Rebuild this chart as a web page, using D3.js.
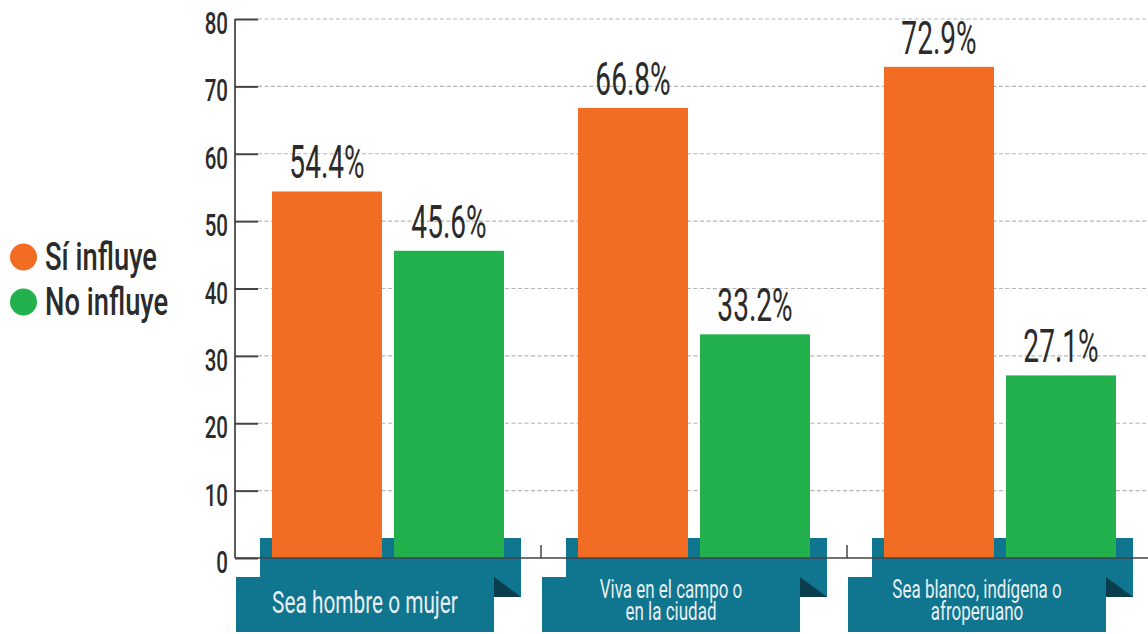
<!DOCTYPE html>
<html><head><meta charset="utf-8">
<script src="https://cdn.jsdelivr.net/npm/d3@7"></script>
<style>html,body{margin:0;padding:0;background:#fff;}svg{display:block;}</style>
</head><body>
<script>
const categories = ["Sea hombre o mujer", "Viva en el campo o en la ciudad", "Sea blanco, indígena o afroperuano"];
const categoryLines = [["Sea hombre o mujer"], ["Viva en el campo o", "en la ciudad"], ["Sea blanco, indígena o", "afroperuano"]];
const seriesNames = ["Sí influye", "No influye"];
const siInfluye = [54.4, 66.8, 72.9];
const noInfluye = [45.6, 33.2, 27.1];
const yTickValues = [0, 10, 20, 30, 40, 50, 60, 70, 80];

const W = 1148, H = 634;
const colors = {"Sí influye": "#F26C23", "No influye": "#23B14D"};
const teal = "#10758F", tealDark = "#0A3D4E", ink = "#2b2b2b";
const FONT = "Roboto, 'Liberation Sans', sans-serif";

const svg = d3.select("body").append("svg").attr("width", W).attr("height", H);

const y = d3.scaleLinear().domain([0, 80]).range([558, 19]);
const x = d3.scaleBand().domain(categories).range([235, 1153]).padding(0);
const inner = d3.scaleBand().domain(seriesNames).range([-116, 116]).paddingInner(12 / 122).paddingOuter(0);

const data = categories.map((c, i) => ({cat: c, lines: categoryLines[i],
  vals: [{s: seriesNames[0], v: siInfluye[i]}, {s: seriesNames[1], v: noInfluye[i]}]}));
const cx = c => x(c) + x.bandwidth() / 2;

function condensed(sel, sx) {
  sel.attr("transform", function() {
    const t = d3.select(this);
    return `translate(${t.attr("data-x")},${t.attr("data-y")}) scale(${sx},1)`;
  });
}

// grid
svg.append("g").selectAll("line").data(yTickValues.filter(d => d > 0)).join("line")
  .attr("x1", 258).attr("x2", W).attr("y1", d => y(d)).attr("y2", d => y(d))
  .attr("stroke", "#b5b5b5").attr("stroke-width", 1.2).attr("stroke-dasharray", "4,2.5");

// y axis
const yAxis = d3.axisLeft(y).tickValues(yTickValues).tickSize(0).tickFormat(d3.format("d"));
const ya = svg.append("g").attr("transform", "translate(235,0)").call(yAxis);
ya.select(".domain").remove();
ya.selectAll(".tick text").remove();
ya.selectAll(".tick").append("line").attr("x1", 0).attr("x2", 23).attr("stroke", "#444").attr("stroke-width", 2);
svg.append("line").attr("x1", 235).attr("x2", 235).attr("y1", y(80)).attr("y2", y(0))
  .attr("stroke", "#333").attr("stroke-width", 1.6);
svg.append("g").selectAll("text").data(yTickValues).join("text")
  .attr("data-x", 228).attr("data-y", d => y(d) + 15)
  .attr("text-anchor", "end").attr("font-family", FONT).attr("font-weight", 500)
  .attr("font-size", 32).attr("fill", ink).text(d => d)
  .call(condensed, 0.64);

// upper banners
const grp = svg.append("g").selectAll("g").data(data).join("g")
  .attr("transform", d => `translate(${cx(d.cat)},0)`);
grp.append("rect").attr("x", -128).attr("width", 261).attr("y", 538).attr("height", 59).attr("fill", teal);
grp.append("path").attr("d", "M106,577L133,597L106,597Z").attr("fill", tealDark);

// x axis line + ticks
svg.append("line").attr("x1", 235).attr("x2", W).attr("y1", y(0)).attr("y2", y(0))
  .attr("stroke", "#444").attr("stroke-width", 1.5);
svg.append("g").selectAll("line").data(categories.slice(1)).join("line")
  .attr("x1", d => x(d)).attr("x2", d => x(d)).attr("y1", y(0)).attr("y2", y(0) - 13)
  .attr("stroke", "#444").attr("stroke-width", 1.5);

// bars
grp.selectAll("rect.bar").data(d => d.vals).join("rect").attr("class", "bar")
  .attr("x", d => inner(d.s)).attr("width", inner.bandwidth())
  .attr("y", d => y(d.v)).attr("height", d => y(0) - y(d.v))
  .attr("fill", d => colors[d.s]);

// value labels
grp.selectAll("text.val").data(d => d.vals).join("text").attr("class", "val")
  .attr("data-x", d => inner(d.s) + inner.bandwidth() / 2).attr("data-y", d => y(d.v) - 13)
  .attr("text-anchor", "middle").attr("font-family", FONT).attr("font-weight", 400)
  .attr("font-size", 46).attr("fill", ink).text(d => d.v.toFixed(1) + "%")
  .call(condensed, 0.61);

// lower banners
grp.append("rect").attr("x", -152).attr("width", 258).attr("y", 577).attr("height", 55).attr("fill", teal);
grp.each(function(d) {
  const g = d3.select(this);
  const two = d.lines.length > 1;
  const fs = two ? 25 : 32;
  const base = two ? 598 : 613;
  const lh = two ? 22 : 0;
  g.selectAll("text.cat").data(d.lines).join("text").attr("class", "cat")
    .attr("data-x", -23).attr("data-y", (l, i) => base + i * lh)
    .attr("text-anchor", "middle").attr("font-family", FONT).attr("font-weight", 400)
    .attr("font-size", fs).attr("fill", "#E8EFF3").text(l => l)
    .call(condensed, two ? 0.68 : 0.65);
});

// legend
const leg = svg.append("g").selectAll("g").data(seriesNames).join("g")
  .attr("transform", (d, i) => `translate(0,${257 + i * 45})`);
leg.append("circle").attr("cx", 23.5).attr("cy", 0).attr("r", 13.5).attr("fill", d => colors[d]);
leg.append("text").attr("data-x", 45).attr("data-y", 13)
  .attr("font-family", FONT).attr("font-weight", 500).attr("font-size", 38).attr("fill", ink)
  .text(d => d).call(condensed, 0.72);
</script>
</body></html>
